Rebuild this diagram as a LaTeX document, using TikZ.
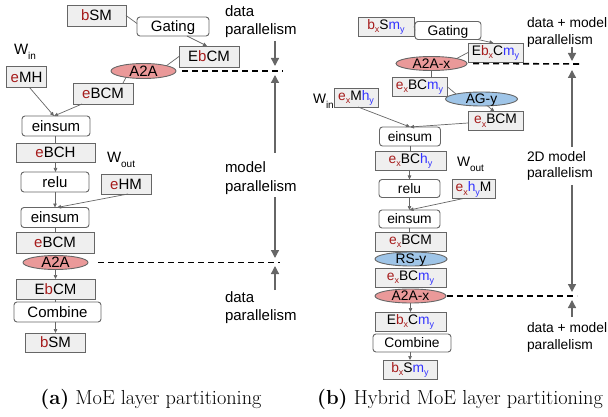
\documentclass[tikz,border=0pt]{standalone}
\usepackage{fontspec}
\usetikzlibrary{shapes.geometric,arrows.meta}
\newfontfamily\arial{Liberation Sans}
\definecolor{edgec}{HTML}{666666}
\definecolor{boxf}{HTML}{EFEFEF}
\definecolor{redf}{HTML}{EA9999}
\definecolor{bluef}{HTML}{9FC5E8}
\definecolor{myred}{HTML}{A61C1C}
\definecolor{myblue}{HTML}{3333FF}
\newcommand{\cred}[1]{\textcolor{myred}{#1}}
\newcommand{\cblu}[1]{\textcolor{myblue}{#1}}
\newcommand{\sbs}[1]{\raisebox{-3.5pt}{\fontsize{9}{9}\selectfont #1}}
\newcommand{\wsb}[1]{\raisebox{-5pt}{\fontsize{10}{10}\selectfont #1}}
\begin{document}
\begin{tikzpicture}[x=1pt,y=-1pt,
  every node/.style={inner sep=0pt,outer sep=0pt},
  sz/.style 2 args={minimum width=#1pt,minimum height=#2pt},
  txt/.style={text height=10.7pt,text depth=0pt},
  box/.style={rectangle,draw=edgec,fill=boxf,line width=0.9pt,txt},
  op/.style={rectangle,rounded corners=3pt,draw=edgec,fill=white,line width=0.9pt,txt},
  rell/.style={ellipse,draw=edgec,fill=redf,line width=0.9pt,txt,inner ysep=-2pt},
  bell/.style={ellipse,draw=edgec,fill=bluef,line width=0.9pt,txt,inner ysep=-2pt},
  sub/.style={text depth=4pt},
  lab/.style={anchor=base west},
  ln/.style={draw=edgec,line width=0.7pt},
  arr/.style={draw=edgec,line width=0.7pt,-{Triangle[length=4pt,width=3.5pt]}},
  big/.style={draw=edgec,line width=1.3pt,-{Triangle[length=8pt,width=8pt]}},
  dashln/.style={draw=black,line width=1.6pt,dash pattern=on 6pt off 4pt},
  captext/.style={anchor=base,font=\rmfamily\fontsize{20.3}{20.3}\selectfont}
]
\useasboundingbox (0,0) rectangle (608,417);

% ---------------- left panel ----------------
\begin{scope}[every node/.append style={font=\arial\fontsize{15}{18}\selectfont}]
\node[box,sz={59}{21}] (bsm) at (96.5,15.5) {\cred{b}SM};
\node[op,sz={72}{19}] (gate) at (173,26.5) {Gating};
\node[box,sz={60}{21}] (ebcm) at (209,56.5) {E\cred{b}CM};
\node[rell,sz={65}{15}] (a2a) at (143.5,71) {A2A};
\node[lab] (win) at (14,55) {W\wsb{in}};
\node[box,sz={40}{21}] (emh) at (26.5,77) {\cred{e}MH};
\node[box,sz={60}{21}] (ebcm1) at (103,93.5) {\cred{e}BCM};
\node[op,sz={68}{20}] (ein1) at (56,126) {einsum};
\node[box,sz={79}{19}] (ebch) at (55.5,152.5) {\cred{e}BCH};
\node[op,sz={68}{20}] (relu) at (55,182) {relu};
\node[lab] (wout) at (107,163) {W\wsb{out}};
\node[box,sz={50}{20}] (ehm) at (126,184) {\cred{e}HM};
\node[op,sz={68}{20}] (ein2) at (55,217.5) {einsum};
\node[box,sz={78}{21}] (ebcm2) at (55,242.5) {\cred{e}BCM};
\node[rell,sz={65}{14}] (a2ab) at (55.5,262.5) {A2A};
\node[box,sz={79}{20}] (ebcm3) at (55.5,289) {E\cred{b}CM};
\node[op,sz={87}{20}] (comb) at (57.5,312) {Combine};
\node[box,sz={60}{19}] (bsm2) at (55.5,342.5) {\cred{b}SM};

\node[lab] (l1a) at (225,17) {data};
\node[lab] (l1b) at (225,35) {parallelism};
\node[lab] (l2a) at (225,173) {model};
\node[lab] (l2b) at (225,191) {parallelism};
\node[lab] (l3a) at (225,302) {data};
\node[lab] (l3b) at (225,320) {parallelism};
\end{scope}

\draw[ln] (bsm.east) -- ([yshift=3pt]gate.west);
\draw[arr] ([xshift=14pt]gate.south) -- ([xshift=-2pt]ebcm.north);
\draw[ln] (ebcm.west) -- (a2a.north east);
\draw[ln] (a2a.200) -- ([xshift=20pt]ebcm1.north);
\draw[arr] ([xshift=-21pt]ebcm1.south) -- ([xshift=-2pt]ein1.north);
\draw[arr] ([xshift=3pt]emh.south) -- ([xshift=-2pt]ein1.north);
\draw[ln] (ein1.south -| ebch.north) -- (ebch.north);
\draw[arr] (ebch.south) -- (ebch.south |- relu.north);
\draw[arr] (relu.south) -- (ein2.north);
\draw[arr] ([xshift=2pt]ehm.south) -- ([xshift=2pt]ein2.north);
\draw[ln] (ein2.south) -- (ebcm2.north);
\draw[arr] (a2ab.south) -- (ebcm3.north);
\draw[ln] (ebcm3.south) -- (ebcm3.south |- comb.north);
\draw[arr] (bsm2.north |- comb.south) -- (bsm2.north);

\coordinate (dl1) at (283,71);
\coordinate (dl2) at (280,262.5);
\draw[dashln] ([xshift=6pt]a2a.east) -- (dl1);
\draw[dashln] ([xshift=10pt]a2ab.east) -- (dl2);
\coordinate (ba1) at (275,41);  \coordinate (bb1) at (275,66);
\coordinate (ba2) at (275,153); \coordinate (bb2) at (275,75);
\coordinate (ba3) at (275,197); \coordinate (bb3) at (275,258);
\coordinate (ba4) at (275,290); \coordinate (bb4) at (275,266);
\draw[big] (ba1) -- (bb1);
\draw[big] (ba2) -- (bb2);
\draw[big] (ba3) -- (bb3);
\draw[big] (ba4) -- (bb4);

% ---------------- right panel ----------------
\begin{scope}[every node/.append style={font=\arial\fontsize{13.8}{17}\selectfont},
  txt/.style={text height=9.9pt,text depth=0pt}]
\node[box,sub,sz={56}{19}] (r1) at (386,26.5) {\cred{b\sbs{x}}S\cblu{m\sbs{y}}};
\node[op,sz={66}{18}] (rg) at (448,30.5) {Gating};
\node[box,sub,sz={55}{19}] (r2) at (495.5,52.5) {E\cred{b\sbs{x}}C\cblu{m\sbs{y}}};
\node[rell,sz={71}{14}] (r3) at (431.5,63.5) {A2A-x};
\node[box,sub,sz={55}{19}] (r4) at (419.5,86.5) {\cred{e\sbs{x}}BC\cblu{m\sbs{y}}};
\node[bell,sz={72}{14}] (r5) at (481.5,99) {AG-y};
\node[lab] (rwin) at (313,104) {W\wsb{in}};
\node[box,sub,sz={44}{19}] (r6) at (356,97.5) {\cred{e\sbs{x}}M\cblu{h\sbs{y}}};
\node[box,sub,sz={55}{19}] (r7) at (495.5,121) {\cred{e\sbs{x}}BCM};
\node[op,sz={61}{19}] (r8) at (410,136.5) {einsum};
\node[box,sub,sz={71}{19}] (r9) at (410.5,160.5) {\cred{e\sbs{x}}BC\cblu{h\sbs{y}}};
\node[lab] (rwout) at (457,167) {W\wsb{out}};
\node[box,sub,sz={43}{19}] (r10) at (473.5,189) {\cred{e\sbs{x}}\cblu{h\sbs{y}}M};
\node[op,sz={61}{18}] (r11) at (409.5,188.5) {relu};
\node[op,sz={61}{18}] (r12) at (409.5,219) {einsum};
\node[box,sub,sz={71}{19}] (r13) at (410.5,241.5) {\cred{e\sbs{x}}BCM};
\node[bell,sz={72}{14}] (r14) at (411,259) {RS-y};
\node[box,sub,sz={71}{19}] (r15) at (410.5,277.5) {\cred{e\sbs{x}}BC\cblu{m\sbs{y}}};
\node[rell,sz={71}{14}] (r16) at (410.5,296) {A2A-x};
\node[box,sub,sz={71}{19}] (r17) at (410.5,321.5) {E\cred{b\sbs{x}}C\cblu{m\sbs{y}}};
\node[op,sz={78}{18}] (r18) at (412,343) {Combine};
\node[box,sub,sz={54}{19}] (r19) at (410,369.5) {\cred{b\sbs{x}}S\cblu{m\sbs{y}}};

\node[lab] (m1a) at (527,28) {data + model};
\node[lab] (m1b) at (527,45) {parallelism};
\node[lab] (m2a) at (527,161) {2D model};
\node[lab] (m2b) at (527,178) {parallelism};
\node[lab] (m3a) at (527,332) {data + model};
\node[lab] (m3b) at (527,349) {parallelism};
\end{scope}

\draw[ln] (r1.east) -- (rg.west);
\draw[arr] ([xshift=30pt]rg.south) -- ([xshift=-2pt]r2.north);
\draw[ln] (r2.west) -- (r3.north east);
\draw[ln] (r3.south) -- (r3.south |- r4.north);
\draw[ln] (r4.east) -- (r5.north west);
\draw[arr] ([xshift=6pt]r5.south) -- ([xshift=-1pt]r7.north);
\draw[arr] ([xshift=2pt]r6.south) -- (r8.north);
\draw[arr] ([yshift=-2pt]r7.west) -- (r8.north);
\draw[ln] (r8.south) -- (r8.south |- r9.north);
\draw[arr] (r11.north |- r9.south) -- (r11.north);
\draw[arr] (r11.south) -- (r12.north);
\draw[arr] ([xshift=-10pt]r10.south) -- (r12.north);
\draw[ln] (r12.south) -- (r12.south |- r13.north);
\draw[arr] (r16.south) -- (r17.north);
\draw[arr] (r19.north |- r18.south) -- (r19.north);

\coordinate (dr1) at (580,64);
\coordinate (dr2) at (577,296);
\draw[dashln] ([xshift=6pt]r3.east) -- (dr1);
\draw[dashln] ([xshift=1pt]r16.east) -- (dr2);
\coordinate (ca1) at (572,47);  \coordinate (cb1) at (572,61);
\coordinate (ca2) at (572,147); \coordinate (cb2) at (572,70);
\coordinate (ca3) at (572,185); \coordinate (cb3) at (572,292);
\coordinate (ca4) at (572,317); \coordinate (cb4) at (572,300);
\draw[big] (ca1) -- (cb1);
\draw[big] (ca2) -- (cb2);
\draw[big] (ca3) -- (cb3);
\draw[big] (ca4) -- (cb4);

% ---------------- captions ----------------
\node[captext] (capa) at (151,404) {\textbf{(a)} MoE layer partitioning};
\node[captext] (capb) at (460,404) {\textbf{(b)} Hybrid MoE layer partitioning};
\end{tikzpicture}
\end{document}
